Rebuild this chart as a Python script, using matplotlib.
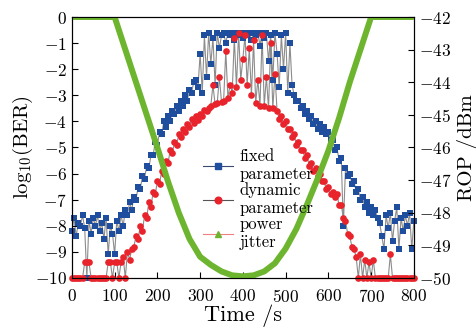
import numpy as np
import matplotlib.pyplot as plt
from matplotlib.lines import Line2D

plt.rcParams['font.family'] = 'cmr10'
plt.rcParams['mathtext.fontset'] = 'cm'
plt.rcParams['axes.formatter.use_mathtext'] = True

# time samples (s) for the two BER series
t = np.arange(0, 801, 5)

# log10(BER), fixed parameter
ber_fixed = [
    -8.2, -7.7, -8.4, -7.9, -8.0, -7.6, -8.1, -10, -7.8, -8.3,
    -7.7, -8.0, -7.6, -8.2, -7.9, -8.5, -7.7, -9.1, -8.0, -8.3,
    -9.1, -7.8, -8.2, -7.6, -8.0, -7.4, -7.6, -7.1, -7.4, -6.9,
    -7.0, -6.5, -6.6, -6.1, -6.2, -5.7, -5.8, -5.3, -5.3, -4.8,
    -4.9, -4.4, -4.5, -4.0, -4.2, -3.8, -4.0, -3.6, -3.7, -3.4,
    -3.6, -3.2, -3.4, -3.0, -3.2, -2.8, -2.9, -2.5, -2.4, -2.7,
    -1.4, -2.9, -0.7, -2.3, -0.6, -1.8, -0.8, -2.6, -0.6, -1.2,
    -0.7, -0.6, -1.0, -0.6, -0.7, -0.6, -0.9, -0.6, -0.7, -0.6,
    -0.8, -0.6, -0.7, -0.6, -0.9, -0.6, -0.7, -0.6, -1.1, -0.6,
    -0.8, -0.6, -1.7, -0.7, -2.4, -0.6, -1.4, -2.7, -0.7, -2.0,
    -0.6, -2.9, -1.0, -2.6, -3.0, -3.2, -3.2, -3.5, -3.4, -3.7,
    -3.6, -3.9, -3.8, -4.1, -4.0, -4.3, -4.1, -4.4, -4.2, -4.5,
    -4.4, -4.7, -4.7, -5.1, -5.0, -5.5, -5.4, -8.0, -5.8, -6.1,
    -6.0, -6.4, -6.3, -6.7, -6.6, -7.0, -6.9, -7.3, -7.1, -7.5,
    -7.3, -7.6, -7.4, -7.7, -7.9, -8.4, -8.9, -7.6, -8.1, -7.5,
    -8.6, -7.8, -7.3, -8.9, -7.7, -8.2, -7.6, -8.0, -7.5, -8.9,
    -7.8,
]

# log10(BER), dynamic parameter (-10 = error free)
ber_dynamic = [
    -10, -10, -10, -10, -10, -10, -9.4, -9.4, -9.4, -10,
    -10, -10, -10, -10, -10, -10, -10, -9.4, -9.4, -10,
    -9.4, -9.4, -10, -9.4, -9.2, -10, -9.0, -9.3, -8.9, -8.8,
    -8.4, -8.5, -8.0, -8.2, -7.6, -7.7, -7.1, -7.3, -6.7, -6.8,
    -6.3, -6.4, -5.9, -6.0, -5.5, -5.6, -5.1, -5.2, -4.8, -4.9,
    -4.5, -4.6, -4.3, -4.4, -4.1, -4.2, -3.9, -4.05, -3.8, -3.95,
    -3.7, -3.8, -3.55, -3.6, -3.5, -3.4, -2.6, -3.35, -3.3, -2.3,
    -3.25, -3.2, -1.3, -3.1, -2.6, -2.9, -0.8, -2.7, -0.6, -2.4,
    -1.6, -0.7, -2.6, -1.2, -3.0, -0.9, -3.3, -2.4, -3.4, -0.7,
    -3.4, -2.3, -3.5, -1.0, -3.5, -2.2, -3.6, -3.9, -3.8, -4.1,
    -4.0, -4.3, -4.3, -4.6, -4.5, -4.9, -4.8, -5.1, -5.1, -5.4,
    -5.3, -5.7, -5.6, -5.9, -5.8, -6.1, -6.0, -6.3, -6.3, -6.6,
    -6.5, -6.8, -6.7, -6.9, -6.8, -7.2, -7.2, -7.7, -7.8, -8.3,
    -8.4, -8.8, -8.9, -9.2, -10, -9.1, -10, -9.3, -10, -9.4,
    -10, -9.3, -10, -10, -10, -10, -10, -10, -10, -9.1,
    -10, -10, -10, -10, -10, -10, -10, -10, -10, -10,
    -10,
]

# received optical power (dBm), power jitter
t_rop = np.arange(0, 801, 25)
rop = [
    -42, -42, -42, -42, -42.0, -43.0, -44.0, -45.0, -46.0, -47.05,
    -48.0, -48.8, -49.35, -49.6, -49.8, -49.92, -49.95, -49.92, -49.8, -49.55,
    -49.1, -48.5, -47.75, -46.95, -46.1, -45.1, -44.0, -43.0, -42.0, -42,
    -42, -42, -42,
]

blue = '#1f4e9e'
red = '#e8232b'
green = '#6db52e'
gray = '#8c8c8c'

fig = plt.figure(figsize=(4.76, 3.27), dpi=100)
ax = fig.add_axes([0.151, 0.150, 0.7185, 0.798])

ax.plot(t, ber_fixed, color=gray, lw=0.8, clip_on=False, zorder=1)
ax.plot(t, ber_dynamic, color=gray, lw=0.8, clip_on=False, zorder=1)
ax.plot(t, ber_fixed, ls='none', marker='s', ms=4.2, mfc=blue, mec=blue,
        mew=0, clip_on=False, zorder=2)
ax.plot(t, ber_dynamic, ls='none', marker='o', ms=4.8, mfc=red, mec=red,
        mew=0, clip_on=False, zorder=3)

ax.set_xlim(0, 800)
ax.set_ylim(-10, 0)
ax.set_xticks(range(0, 801, 100))
ax.set_yticks(range(-10, 1))
ax.tick_params(direction='in', length=4, labelsize=12.5, top=False, right=False)
ax.tick_params(axis='x', pad=7)
ax.set_xlabel('Time /s', fontsize=16, labelpad=0)
ax.set_ylabel('log$_{10}$(BER)', fontsize=15, labelpad=0)

ax2 = ax.twinx()
ax2.plot(t_rop, rop, color=green, lw=4.3, solid_capstyle='butt')
ax2.set_ylim(-50, -42)
ax2.set_yticks(range(-50, -41))
ax2.tick_params(direction='in', length=4, labelsize=12.5)
ax2.set_ylabel('ROP /dBm', fontsize=15, labelpad=4)

handles = [
    Line2D([], [], color='#3a4a70', lw=0.8, marker='s', ms=4.2, mfc=blue, mec=blue),
    Line2D([], [], color='#555555', lw=0.8, marker='o', ms=4.8, mfc=red, mec=red),
    Line2D([], [], color='#f08080', lw=0.8, marker='^', ms=5, mfc=green, mec=green),
]
labels = ['fixed\nparameter', 'dynamic\nparameter', 'power\njitter']
ax2.legend(handles, labels, loc='upper left', bbox_to_anchor=(0.35, 0.54),
           frameon=False, fontsize=12, handlelength=1.8, handletextpad=0.4,
           labelspacing=0.05, borderpad=0.2)

fig.savefig('out.png', dpi=100)
